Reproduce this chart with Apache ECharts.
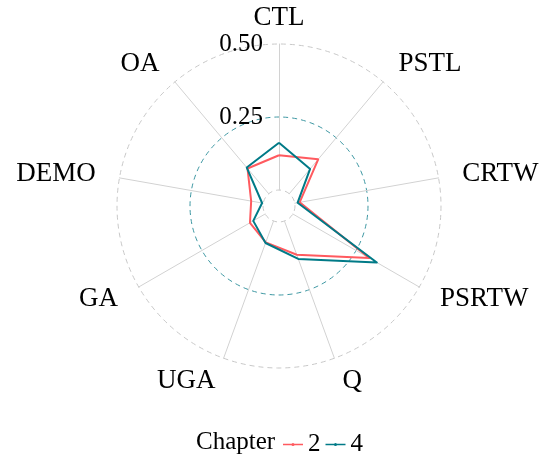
<!DOCTYPE html>
<html>
<head>
<meta charset="utf-8">
<script src="https://cdn.jsdelivr.net/npm/echarts@6/dist/echarts.min.js"></script>
<style>
html, body { margin: 0; padding: 0; background: #fff; }
#chart { width: 552px; height: 457px; }
</style>
</head>
<body>
<div id="chart"></div>
<script>
// axes in clockwise order, starting at the top
const axes = ['CTL', 'PSTL', 'CRTW', 'PSRTW', 'Q', 'UGA', 'GA', 'DEMO', 'OA']
const chapter2 = [0.119, 0.154, 0.017, 0.302, 0.123, 0.078, 0.060, 0.042, 0.113]
const chapter4 = [0.162, 0.111, 0.010, 0.332, 0.138, 0.080, 0.047, 0.004, 0.117]
const groups = ['2', '4']
const gridMin = 0
const gridMax = 0.5

const serif = "'Liberation Serif', 'Times New Roman', serif"
const colors = ['#ff5a5f', '#007a87']

// echarts places indicators counter-clockwise, so keep the first and flip the rest
const order = [0, ...axes.slice(1).map((_, i) => axes.length - 1 - i)]
const pick = arr => order.map(i => arr[i])

const chart = echarts.init(document.getElementById('chart'))

chart.setOption({
  animation: false,
  color: colors,
  title: {
    text: 'Chapter',
    left: 196,
    top: 430,
    padding: 0,
    textStyle: { fontFamily: serif, fontSize: 25, fontWeight: 'normal', color: '#000' },
  },
  legend: {
    left: 283,
    top: 432,
    padding: 0,
    itemWidth: 20,
    itemHeight: 6,
    itemGap: 5,
    icon: 'path://M0,2.2 H20 V3.8 H0 Z M10,1.4 A1.6,1.6 0 1,1 9.99,1.4 Z',
    data: groups,
    textStyle: { fontFamily: serif, fontSize: 25, color: '#000' },
  },
  radar: {
    center: [279, 206],
    radius: [16, 162],
    shape: 'circle',
    splitNumber: 2,
    axisNameGap: 24,
    axisName: {
      color: '#000',
      fontFamily: serif,
      fontSize: 27,
      verticalAlign: 'middle',
      // the top label sits a little lower in the original
      formatter: name => (name === axes[0] ? '{top|' + name + '}' : name),
      rich: {
        top: { fontFamily: serif, fontSize: 27, color: '#000', padding: [18, 0, 0, 0] },
      },
    },
    axisLine: { lineStyle: { color: '#d2d2d2', width: 1 } },
    splitLine: {
      lineStyle: {
        color: ['#c8c8c8', '#3d97a2', '#c8c8c8'],
        type: [5, 4],
        width: 1,
      },
    },
    splitArea: { show: false },
    axisTick: { show: false },
    axisLabel: { show: false },
    indicator: pick(axes).map((name, i) => ({
      name,
      min: gridMin,
      max: gridMax,
      axisLabel: i === 0 ? {
        show: true,
        color: '#000',
        fontFamily: serif,
        fontSize: 25,
        margin: 16,
        formatter: v => (v === 0 ? '' : v.toFixed(2)),
      } : { show: false },
    })),
  },
  series: [
    {
      type: 'radar',
      symbol: 'none',
      data: [
        { name: groups[0], value: pick(chapter2), lineStyle: { color: colors[0], width: 2 }, itemStyle: { color: colors[0] } },
        { name: groups[1], value: pick(chapter4), lineStyle: { color: colors[1], width: 2 }, itemStyle: { color: colors[1] } },
      ],
    },
  ],
})
</script>
</body>
</html>
